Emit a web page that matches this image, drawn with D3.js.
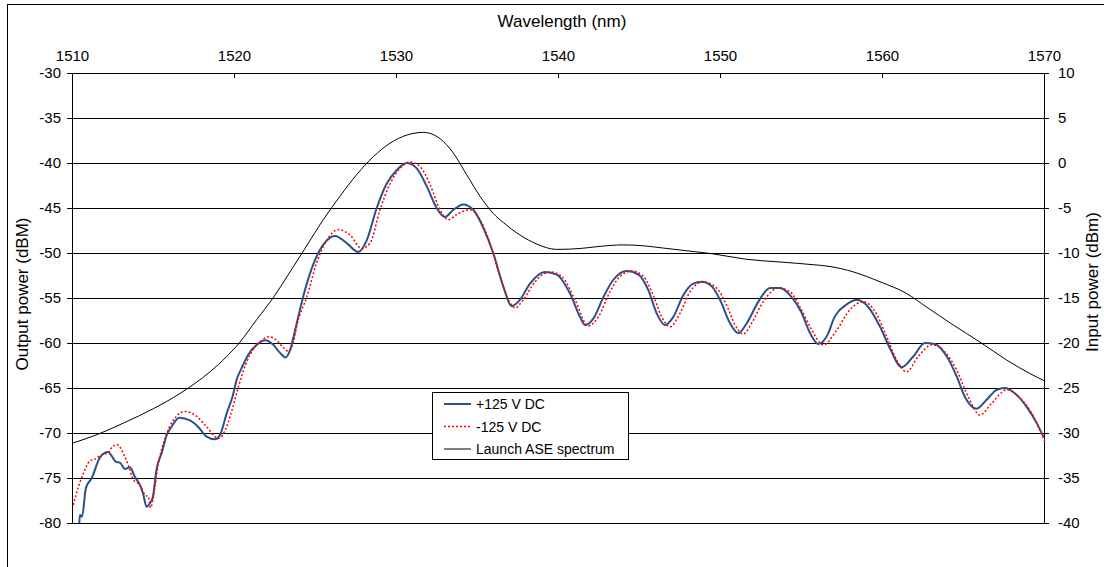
<!DOCTYPE html>
<html>
<head>
<meta charset="utf-8">
<script src="https://cdn.jsdelivr.net/npm/d3@7"></script>
<style>
  body { margin: 0; background: #fff; }
  text { font-family: "Liberation Sans", Arial, sans-serif; fill: #000; }
</style>
</head>
<body>
<div id="chart"></div>
<script>
// tick values
const xTicks = [1510, 1520, 1530, 1540, 1550, 1560, 1570];
const leftTicks = [-80, -75, -70, -65, -60, -55, -50, -45, -40, -35, -30];
const rightTicks = [-40, -35, -30, -25, -20, -15, -10, -5, 0, 5, 10];

// +125 V DC (output power, dBm)
const posWl = [1510.45, 1510.49, 1510.62, 1510.86, 1511.22, 1511.73, 1512.22, 1512.72, 1512.96, 1513.27,
  1513.58, 1513.89, 1514.2, 1514.38, 1514.61, 1514.81, 1514.98, 1515.23, 1515.54, 1515.85,
  1516.15, 1516.62, 1517.28, 1517.78, 1518.31, 1518.83, 1519.14, 1519.55, 1519.92, 1520.16,
  1520.47, 1520.88, 1521.4, 1521.91, 1522.43, 1522.84, 1523.19, 1523.46, 1523.77, 1524.07,
  1524.38, 1524.8, 1525.5, 1526.23, 1526.96, 1527.67, 1528.19, 1528.81, 1529.42, 1530.04,
  1530.66, 1531.28, 1531.9, 1532.51, 1533.02, 1533.54, 1534.15, 1534.77, 1535.39, 1536.0,
  1536.62, 1537.14, 1537.65, 1538.27, 1539.2, 1539.92, 1540.74, 1541.36, 1541.67, 1542.18,
  1542.8, 1543.41, 1544.24, 1544.96, 1545.57, 1546.09, 1546.6, 1547.12, 1547.73, 1548.35,
  1548.87, 1549.49, 1550.0, 1550.62, 1551.13, 1551.65, 1552.37, 1553.09, 1553.7, 1554.42,
  1555.0, 1555.56, 1556.07, 1556.69, 1557.0, 1557.3, 1557.61, 1558.44, 1559.15, 1559.88,
  1560.49, 1561.22, 1561.93, 1562.65, 1563.27, 1564.0, 1564.61, 1565.12, 1565.84, 1566.46,
  1567.08, 1567.59, 1568.21, 1568.93, 1569.55, 1569.96];
const posDb = [-80.0, -79.1, -79.3, -76.1, -75.0, -72.7, -72.1, -73.2, -73.3, -74.0,
  -73.8, -74.9, -75.8, -76.7, -78.2, -77.8, -77.2, -73.9, -72.2, -70.2,
  -69.3, -68.3, -68.6, -69.3, -70.4, -70.7, -70.2, -67.8, -65.9, -64.1,
  -62.8, -61.3, -60.2, -59.7, -60.2, -61.1, -61.6, -60.8, -58.6, -56.3,
  -54.1, -51.7, -49.1, -48.1, -48.9, -49.9, -48.6, -45.0, -42.3, -40.8,
  -40.0, -40.6, -42.6, -45.0, -46.0, -45.2, -44.6, -45.2, -47.2, -50.0,
  -53.7, -55.9, -55.2, -53.4, -52.1, -52.4, -54.5, -57.1, -58.0, -57.3,
  -54.9, -53.0, -52.0, -52.4, -54.1, -56.7, -58.0, -57.1, -54.7, -53.4,
  -53.2, -53.7, -55.2, -57.8, -58.9, -57.8, -55.4, -53.9, -53.9, -54.9,
  -56.5, -58.9, -60.1, -58.9, -57.4, -56.5, -56.0, -55.2, -56.0, -58.2,
  -60.6, -62.7, -61.5, -60.0, -60.1, -61.5, -63.7, -66.0, -67.3, -66.3,
  -65.2, -65.0, -65.6, -67.1, -68.9, -70.4];

// -125 V DC (output power, dBm)
const negWl = [1510.08, 1510.39, 1510.7, 1511.11, 1511.42, 1511.83, 1512.24, 1512.51, 1512.8, 1513.17,
  1513.48, 1513.79, 1514.2, 1514.51, 1514.71, 1514.86, 1515.06, 1515.33, 1515.74, 1516.25,
  1516.98, 1517.59, 1518.31, 1519.03, 1519.55, 1519.96, 1520.16, 1520.47, 1520.99, 1521.6,
  1522.16, 1522.63, 1523.04, 1523.35, 1523.66, 1523.91, 1524.49, 1525.1, 1525.72, 1526.44,
  1527.16, 1527.88, 1528.4, 1529.01, 1529.63, 1530.25, 1530.86, 1531.48, 1532.1, 1532.72,
  1533.23, 1533.85, 1534.57, 1535.19, 1535.8, 1536.42, 1537.0, 1537.35, 1537.86, 1538.58,
  1539.51, 1540.23, 1541.05, 1541.87, 1542.49, 1543.21, 1543.83, 1544.55, 1545.27, 1545.88,
  1546.4, 1546.91, 1547.53, 1548.15, 1548.97, 1549.79, 1550.41, 1550.93, 1551.44, 1551.95,
  1552.67, 1553.6, 1554.32, 1554.94, 1555.56, 1556.38, 1557.2, 1558.02, 1558.85, 1559.57,
  1560.29, 1560.91, 1561.52, 1562.24, 1563.07, 1563.89, 1564.61, 1565.33, 1566.05, 1566.77,
  1567.7, 1568.52, 1569.24, 1569.75, 1570.06];
const negDb = [-78.0, -76.0, -74.5, -73.1, -72.9, -72.4, -72.2, -71.5, -71.3, -72.3,
  -73.6, -75.2, -75.8, -76.9, -77.1, -78.3, -76.7, -73.4, -70.6, -68.6,
  -67.6, -68.0, -69.3, -70.6, -69.3, -66.9, -65.6, -63.7, -61.3, -59.9,
  -59.3, -59.7, -60.5, -60.9, -59.9, -57.8, -54.9, -51.1, -48.6, -47.4,
  -48.0, -49.5, -48.9, -45.2, -42.3, -40.6, -39.9, -40.4, -42.4, -45.2,
  -46.3, -45.6, -45.2, -46.3, -48.9, -52.6, -55.4, -56.1, -55.2, -53.2,
  -52.1, -52.6, -55.2, -58.1, -57.1, -54.3, -52.6, -52.0, -52.6, -54.7,
  -57.1, -58.2, -56.7, -54.3, -53.2, -53.9, -55.8, -58.0, -59.0, -57.8,
  -55.4, -53.9, -54.3, -56.0, -58.2, -60.2, -58.6, -56.3, -55.4, -56.5,
  -59.3, -61.9, -63.2, -61.5, -60.2, -61.0, -63.0, -66.0, -68.0, -66.7,
  -65.2, -66.1, -67.8, -69.7, -71.0];

// Launch ASE spectrum (input power, dBm, right axis)
const aseWl = [1510.08, 1511.52, 1513.17, 1515.02, 1516.67, 1518.52, 1519.55, 1520.37, 1521.4,
  1522.33, 1523.46, 1524.38, 1525.51, 1526.54, 1527.57, 1528.6, 1529.63, 1530.66, 1531.69,
  1532.72, 1533.54, 1534.36, 1535.19, 1536.0, 1536.62, 1537.65, 1538.68, 1539.92, 1541.36,
  1542.39, 1544.03, 1545.27, 1546.5, 1547.94, 1549.59, 1551.65, 1553.7, 1555.76, 1556.79,
  1558.23, 1559.88, 1561.52, 1562.75, 1564.4, 1566.05, 1567.7, 1569.14, 1570.02];
const aseDb = [-31.1, -30.2, -28.9, -27.3, -25.6, -23.2, -21.5, -19.9, -17.4,
  -15.2, -12.1, -9.5, -6.3, -3.7, -1.3, 0.7, 2.2, 3.1, 3.4,
  2.7, 1.1, -1.3, -3.7, -5.6, -6.6, -8.0, -9.0, -9.6, -9.5,
  -9.3, -9.1, -9.2, -9.45, -9.75, -10.1, -10.7, -11.0, -11.3, -11.5,
  -12.1, -13.2, -14.5, -16.0, -18.0, -19.9, -21.9, -23.4, -24.2];

const seriesNames = ["+125 V DC", "-125 V DC", "Launch ASE spectrum"];

const W = 1104, H = 567;
const margin = { left: 72, top: 73, right: 60, bottom: 44 };
const plotW = 972, plotH = 450;

const svg = d3.select("#chart").append("svg")
  .attr("width", W).attr("height", H);

// outer chart frame (runs off the right/bottom edge in the original)
svg.append("rect")
  .attr("x", 7.5).attr("y", 4.5)
  .attr("width", 1120).attr("height", 600)
  .attr("fill", "none").attr("stroke", "#000").attr("stroke-width", 1);

const g = svg.append("g").attr("transform", `translate(${margin.left},${margin.top})`);

const x = d3.scaleLinear().domain([1510, 1570]).range([0, plotW]);
const yL = d3.scaleLinear().domain([-80, -30]).range([plotH, 0]);
const yR = d3.scaleLinear().domain([-40, 10]).range([plotH, 0]);

// horizontal gridlines
g.append("g")
  .selectAll("line")
  .data(leftTicks)
  .enter()
  .append("line")
  .attr("x1", 0).attr("x2", plotW)
  .attr("y1", d => Math.round(yL(d)) + 0.5)
  .attr("y2", d => Math.round(yL(d)) + 0.5)
  .attr("stroke", "#000").attr("stroke-width", 1);

// axes (plain hyphen for negatives, like the original)
const axisFont = "15px";
const fmt = d => String(d);

const xAxis = g.append("g")
  .call(d3.axisTop(x).tickValues(xTicks).tickSize(-5).tickPadding(12).tickFormat(fmt));
xAxis.selectAll("text").style("font-size", axisFont);

const leftAxis = g.append("g")
  .call(d3.axisLeft(yL).tickValues(leftTicks).tickSize(5).tickPadding(6).tickFormat(fmt));
leftAxis.selectAll("text").style("font-size", axisFont);

const rightAxis = g.append("g")
  .attr("transform", `translate(${plotW},0)`)
  .call(d3.axisRight(yR).tickValues(rightTicks).tickSize(5).tickPadding(9).tickFormat(fmt));
rightAxis.selectAll("text").style("font-size", axisFont);

[xAxis, leftAxis, rightAxis].forEach(a => {
  a.select(".domain").attr("stroke", "#000");
  a.selectAll(".tick line").attr("stroke", "#000");
  a.selectAll("text").attr("fill", "#000").style("font-family", "Liberation Sans, Arial, sans-serif");
});
// x tick labels sit above the axis
xAxis.selectAll(".tick text").attr("y", -12).attr("dy", "0");

// axis titles
svg.append("text")
  .attr("x", margin.left + plotW / 2 + 4).attr("y", 27)
  .attr("text-anchor", "middle").style("font-size", "17px")
  .text("Wavelength (nm)");

svg.append("text")
  .attr("transform", `translate(28,${margin.top + plotH / 2 - 4}) rotate(-90)`)
  .attr("text-anchor", "middle").style("font-size", "17px")
  .text("Output power (dBM)");

svg.append("text")
  .attr("transform", `translate(1098,282) rotate(-90)`)
  .attr("text-anchor", "middle").style("font-size", "17px")
  .text("Input power (dBm)");

// lines
const lineL = d3.line().x(d => x(d[0])).y(d => yL(d[1])).curve(d3.curveMonotoneX);
const lineR = d3.line().x(d => x(d[0])).y(d => yR(d[1])).curve(d3.curveMonotoneX);

const zip = (a, b) => a.map((v, i) => [v, b[i]]);

g.append("path")
  .attr("d", lineR(zip(aseWl, aseDb)))
  .attr("fill", "none").attr("stroke", "#000").attr("stroke-width", 1);

g.append("path")
  .attr("d", lineL(zip(posWl, posDb)))
  .attr("fill", "none").attr("stroke", "#2a5189").attr("stroke-width", 2);

g.append("path")
  .attr("d", lineL(zip(negWl, negDb)))
  .attr("fill", "none").attr("stroke", "#ff0000").attr("stroke-width", 1.5)
  .attr("stroke-dasharray", "2,2");

// legend
const legend = svg.append("g").attr("transform", "translate(432,392)");
legend.append("rect")
  .attr("x", 0.5).attr("y", 0.5).attr("width", 196).attr("height", 67)
  .attr("fill", "#fff").attr("stroke", "#000");

const legendStyles = [
  { stroke: "#2a5189", width: 2, dash: null },
  { stroke: "#ff0000", width: 1.5, dash: "2,2" },
  { stroke: "#000", width: 1, dash: null },
];

seriesNames.forEach((name, i) => {
  const yy = 12 + i * 22.5;
  legend.append("line")
    .attr("x1", 12).attr("x2", 39).attr("y1", yy).attr("y2", yy)
    .attr("stroke", legendStyles[i].stroke)
    .attr("stroke-width", legendStyles[i].width)
    .attr("stroke-dasharray", legendStyles[i].dash);
  legend.append("text")
    .attr("x", 44).attr("y", yy + 5)
    .style("font-size", "14px")
    .text(name);
});
</script>
</body>
</html>
